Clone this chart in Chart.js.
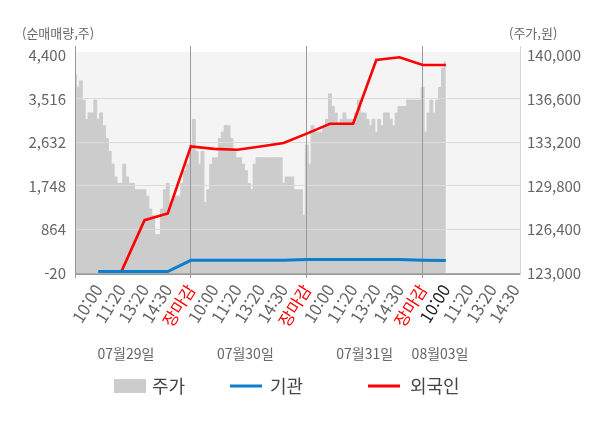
<!DOCTYPE html>
<html lang="ko">
<head>
<meta charset="utf-8">
<script src="https://cdn.jsdelivr.net/npm/chart.js@4.4.1/dist/chart.umd.min.js"></script>
<style>
  html, body { margin: 0; padding: 0; background: #fff; }
  #wrap { width: 600px; height: 428px; }
</style>
</head>
<body>
<div id="wrap"><canvas id="flowChart" width="600" height="428"></canvas></div>
<script>
// x axis slots: 0 = market open of day 1, one slot per tick label
const tickLabels = ['', '10:00', '11:20', '13:20', '14:30', '장마감',
    '10:00', '11:20', '13:20', '14:30', '장마감',
    '10:00', '11:20', '13:20', '14:30', '장마감',
    '10:00', '11:20', '13:20', '14:30'];
const dateLabels = ['07월29일', '07월30일', '07월31일', '08월03일'];
const datePos = [2.2, 7.35, 12.5, 15.75];

const leftTicks = [-20, 864, 1748, 2632, 3516, 4400];
const rightTicks = [123000, 126400, 129800, 133200, 136600, 140000];

// cumulative net buying per slot (shares)
const foreignNet = [null, null, 8, 1053, 1188, 2550, 2500, 2484, 2550, 2619, 2810, 3010, 3010, 4305, 4360, 4204, 4204];
const instNet = [null, 10, 10, 10, 10, 237, 237, 237, 237, 237, 255, 255, 255, 255, 255, 240, 235];

// share price, 8 samples per slot (won)
const PRICE_PER_SLOT = 8;
const price = [
    138500, 137500, 138000, 136500, 135000, 135500, 135500, 136500,
    135000, 135500, 134500, 133500, 132500, 131500, 130500, 130000,
    130000, 131500, 130500, 130000, 130000, 129500, 129500, 129500,
    129500, 129000, 128000, 127500, 126000, 126000, 128000, 129500,
    130000, 128500, 129000, 129000, 129000, 130000, 131000, 131500,
    133000, 135000, 132500, 131500, 132500, 128500, 129500, 131500,
    132000, 132000, 133500, 134000, 134500, 134500, 133500, 132500,
    132000, 132000, 131500, 131000, 130000, 129500, 131500, 132000,
    132000, 132000, 132000, 132000, 132000, 132000, 132000, 132000,
    130000, 130500, 130500, 130500, 129500, 129500, 129500, 127500,
    133000, 131500, 134500, 134000, 134000, 134000, 134500, 135000,
    137000, 136000, 135500, 134500, 135000, 135500, 135000, 135000,
    135000, 135500, 136500, 135500, 135500, 135000, 134500, 135000,
    134000, 135000, 134500, 135500, 135500, 135000, 134500, 135500,
    136000, 136000, 136000, 136500, 136500, 136500, 136500, 136500,
    137500, 134000, 135500, 136500, 135500, 136500, 137500, 139000,
    139500
];

const FONT = "'Noto Sans CJK KR', 'Noto Sans', sans-serif";
const separators = [0, 5, 10, 15];

// light plot background, starts a little under the top of the grid lines
const plotBackground = {
    id: 'plotBackground',
    beforeDraw(chart) {
        const a = chart.chartArea;
        const ctx = chart.ctx;
        ctx.save();
        ctx.fillStyle = '#f4f4f4';
        ctx.fillRect(a.left, a.top + 6, a.right - a.left, a.bottom - a.top - 6);
        ctx.restore();
    }
};

// grid goes over the price area but under the two net-buying lines
const gridOverArea = {
    id: 'gridOverArea',
    afterDatasetDraw(chart, args) {
        if (args.index !== 0) return;
        chart.scales.y.drawGrid(chart.chartArea);
        chart.scales.x.drawGrid(chart.chartArea);
    }
};

// axis titles, date row and legend
const extraText = {
    id: 'extraText',
    afterDraw(chart) {
        const ctx = chart.ctx;
        const x = chart.scales.x;
        ctx.save();
        ctx.textBaseline = 'middle';

        ctx.font = '13px ' + FONT;
        ctx.fillStyle = '#666';
        ctx.textAlign = 'left';
        ctx.fillText('(순매매량,주)', 22, 33);
        ctx.fillText('(주가,원)', 509, 33);

        ctx.font = '14px ' + FONT;
        ctx.textAlign = 'center';
        dateLabels.forEach((d, i) => {
            ctx.fillText(d, x.getPixelForValue(datePos[i]), 354);
        });

        // legend
        const ly = 386;
        ctx.font = '18px ' + FONT;
        ctx.textAlign = 'left';
        ctx.fillStyle = '#cccccc';
        ctx.fillRect(114, ly - 7, 32, 14);
        ctx.fillStyle = '#444';
        ctx.fillText('주가', 152, ly);

        ctx.lineWidth = 3;
        ctx.strokeStyle = '#0a7fcf';
        ctx.beginPath(); ctx.moveTo(230, ly); ctx.lineTo(262, ly); ctx.stroke();
        ctx.fillText('기관', 270, ly);

        ctx.strokeStyle = '#ff0000';
        ctx.beginPath(); ctx.moveTo(368, ly); ctx.lineTo(400, ly); ctx.stroke();
        ctx.fillText('외국인', 410, ly);
        ctx.restore();
    }
};

const ctx = document.getElementById('flowChart').getContext('2d');
new Chart(ctx, {
    type: 'line',
    data: {
        datasets: [
            {
                label: '주가',
                data: price.map((v, j) => ({ x: j / PRICE_PER_SLOT, y: v })),
                yAxisID: 'y1',
                borderColor: '#cccccc',
                borderWidth: 1,
                backgroundColor: '#cccccc',
                fill: 'start',
                stepped: 'middle',
                pointRadius: 0,
                order: 2
            },
            {
                label: '기관',
                data: instNet.map((v, k) => ({ x: k, y: v })),
                yAxisID: 'y',
                borderColor: '#0a7fcf',
                borderWidth: 3,
                pointRadius: 0,
                tension: 0,
                fill: false,
                order: 0
            },
            {
                label: '외국인',
                data: foreignNet.map((v, k) => ({ x: k, y: v })),
                yAxisID: 'y',
                borderColor: '#ff0000',
                borderWidth: 2.6,
                pointRadius: 0,
                tension: 0,
                fill: false,
                order: 1
            }
        ]
    },
    options: {
        responsive: false,
        animation: false,
        layout: { padding: { top: 46, left: 0, right: 0, bottom: 0 } },
        plugins: {
            legend: { display: false },
            tooltip: { enabled: false }
        },
        scales: {
            x: {
                type: 'linear',
                min: 0,
                max: 19.2,
                afterBuildTicks: s => { s.ticks = tickLabels.map((t, k) => ({ value: k })); },
                afterFit: s => { s.height = 154; },
                border: { display: true, color: '#999' },
                grid: {
                    color: c => separators.includes(c.tick.value) ? '#999' : 'rgba(0,0,0,0)',
                    lineWidth: 1,
                    tickLength: 4
                },
                ticks: {
                    autoSkip: false,
                    maxRotation: 58,
                    minRotation: 58,
                    padding: 3,
                    font: { family: FONT, size: 16.5 },
                    color: c => {
                        const lab = tickLabels[c.tick.value];
                        if (lab === '장마감') return '#ff0000';
                        if (c.tick.value === 16) return '#222';
                        return '#666';
                    },
                    callback: v => tickLabels[v]
                }
            },
            y: {
                position: 'left',
                min: -40,
                max: 4589,
                afterBuildTicks: s => { s.ticks = leftTicks.map(v => ({ value: v })); },
                afterFit: s => { s.width = 75; },
                border: { display: true, color: '#999' },
                grid: {
                    color: c => c.tick.value === 4400 ? 'rgba(0,0,0,0)' : (c.tick.value === -20 ? '#aaa' : '#dcdcdc'),
                    drawTicks: false
                },
                ticks: {
                    padding: 9,
                    font: { family: FONT, size: 15 },
                    color: '#666',
                    callback: v => v.toLocaleString('en-US')
                }
            },
            y1: {
                position: 'right',
                min: 122922,
                max: 140726,
                afterBuildTicks: s => { s.ticks = rightTicks.map(v => ({ value: v })); },
                afterFit: s => { s.width = 80; },
                border: { display: true, color: '#d4d4d4' },
                grid: { drawOnChartArea: false, drawTicks: false },
                ticks: {
                    padding: 7,
                    font: { family: FONT, size: 15 },
                    color: '#666',
                    callback: v => v.toLocaleString('en-US')
                }
            }
        }
    },
    plugins: [plotBackground, gridOverArea, extraText]
});
</script>
</body>
</html>
